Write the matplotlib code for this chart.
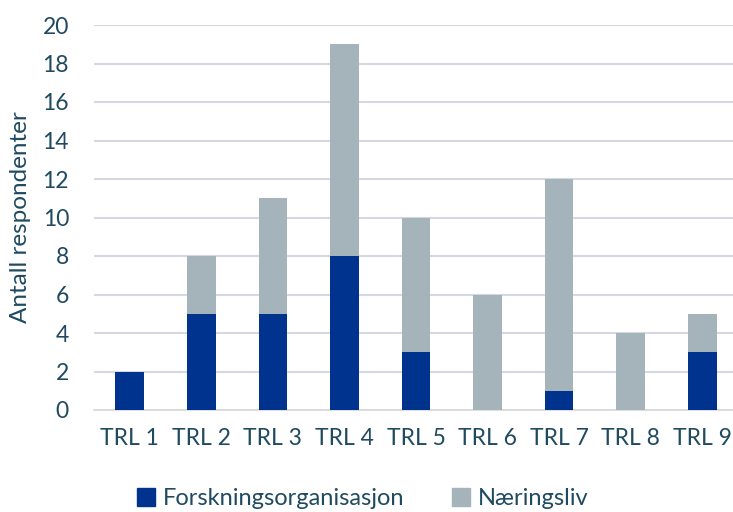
import numpy as np
import matplotlib.pyplot as plt
from matplotlib.patches import Patch

categories = ['TRL 1', 'TRL 2', 'TRL 3', 'TRL 4', 'TRL 5', 'TRL 6', 'TRL 7', 'TRL 8', 'TRL 9']
forskning = [2, 5, 5, 8, 3, 0, 1, 0, 3]
naering = [0, 3, 6, 11, 7, 6, 11, 4, 2]

BLUE = '#00338D'
GREY = '#A5B3BA'
TEXT = '#1F4A60'

plt.rcParams['font.family'] = ['Lato', 'DejaVu Sans']

fig = plt.figure(figsize=(7.33, 5.12), dpi=100)
ax = fig.add_axes([94/733, 1 - 410/512, 1 - 94/733, 385/512])

x = np.arange(len(categories))
ax.bar(x, forskning, width=0.4, color=BLUE, zorder=3)
ax.bar(x, naering, width=0.4, bottom=forskning, color=GREY, zorder=3)

ax.set_ylim(0, 20)
ax.set_xlim(-0.5, 8.43)
ax.set_yticks(range(0, 21, 2))
ax.set_xticks(x)
ax.set_xticklabels(categories)
ax.yaxis.grid(True, color='#D5D8E3', linewidth=1.5, zorder=0)
for s in ['top', 'right', 'left']:
    ax.spines[s].set_visible(False)
ax.spines['bottom'].set_color('#D9D9D9')
ax.spines['bottom'].set_linewidth(1.2)
ax.tick_params(axis='both', length=0, labelsize=16.5, colors=TEXT)
ax.tick_params(axis='x', pad=13)
ax.tick_params(axis='y', pad=18)
ax.set_ylabel('Antall respondenter', fontsize=17.5, color=TEXT, labelpad=8)

handles = [Patch(color=BLUE, label='Forskningsorganisasjon'),
           Patch(color=GREY, label='Næringsliv')]
fig.legend(handles=handles, loc='center', bbox_to_anchor=(0.495, 0.026), ncol=2,
           frameon=False, fontsize=17, labelcolor=TEXT, handlelength=0.75,
           handleheight=0.75, handletextpad=0.35, columnspacing=2.0)

fig.savefig('out.png', dpi=100)
